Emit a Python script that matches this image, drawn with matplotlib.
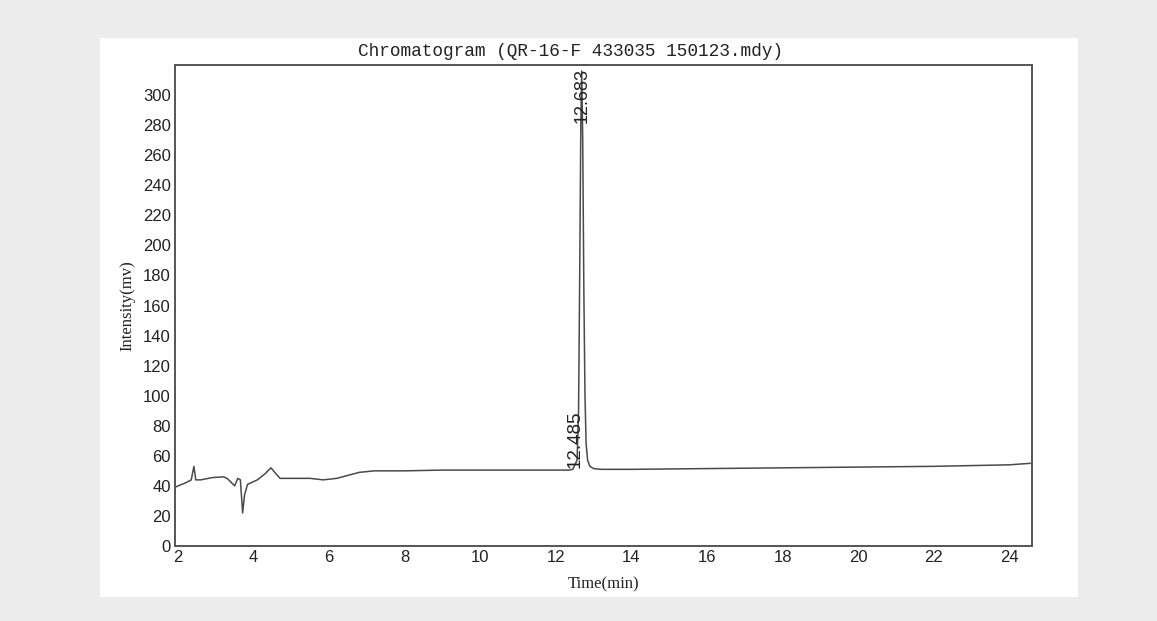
import matplotlib.pyplot as plt
from matplotlib.patches import Rectangle

# chromatogram trace
time_min = [1.92, 2.0, 2.2, 2.35, 2.42, 2.47, 2.6, 2.9, 3.2, 3.3, 3.42, 3.5, 3.58, 3.65, 3.71,
            3.76, 3.84, 4.1, 4.3, 4.46, 4.56, 4.7, 5.0, 5.5, 5.84, 6.2, 6.5, 6.8, 7.2,
            8.0, 9.0, 10.0, 11.0, 12.0, 12.35, 12.45, 12.5, 12.56, 12.6, 12.63, 12.66,
            12.683, 12.71, 12.74, 12.77, 12.8, 12.84, 12.9, 13.0, 13.2, 14.0, 16.0,
            18.0, 20.0, 22.0, 24.0, 24.55]
intensity = [39, 40, 42, 44, 53, 44, 44, 45.5, 46, 45, 42, 40, 45, 44, 22,
             34, 41, 44, 48, 52, 49, 45, 45, 45, 44, 45, 47, 49, 50,
             50, 50.5, 50.5, 50.5, 50.5, 50.5, 51, 54, 57, 90, 180, 280,
             316, 270, 170, 100, 68, 57, 53, 51.5, 51, 51, 51.5,
             52, 52.5, 53, 54, 55]

peak_times = [12.485, 12.683]
peak_labels = ['12.485', '12.683']

fig = plt.figure(figsize=(11.57, 6.21), dpi=100)
fig.patch.set_facecolor('#ececec')
fig.patches.append(Rectangle((100/1157, 1-597/621), 978/1157, 559/621,
                             transform=fig.transFigure, facecolor='white',
                             edgecolor='none', zorder=-5))

ax = fig.add_axes([175/1157, 1-546/621, 857/1157, 481/621])
ax.set_facecolor('none')
ax.plot(time_min, intensity, color='#4a4a4a', lw=1.1)

ax.text(peak_times[0] + 0.03, 52, peak_labels[0], rotation=90, ha='center', va='bottom',
        fontsize=13.5, family='Liberation Sans', color='#222222')
ax.text(peak_times[1], 318, peak_labels[1], rotation=90, ha='center', va='top',
        fontsize=13, family='Liberation Sans', color='#222222')

ax.set_xlim(1.92, 24.6)
ax.set_ylim(0, 320)
ax.set_xticks(range(2, 25, 2))
ax.set_yticks(range(0, 301, 20))
ax.tick_params(length=0, labelsize=12, pad=3, colors='#222222')
for lab in ax.get_xticklabels() + ax.get_yticklabels():
    lab.set_family('Liberation Sans')
for s in ax.spines.values():
    s.set_color('#555555')
    s.set_linewidth(1.4)

fig.text(570/1157, 1-52/621, 'Chromatogram (QR-16-F 433035 150123.mdy)', family='Liberation Mono',
         fontsize=12.8, ha='center', va='center', color='#222222')
ax.set_xlabel('Time(min)', family='Liberation Serif', fontsize=12, labelpad=8, color='#222222')
ax.set_ylabel('Intensity(mv)', family='Liberation Serif', fontsize=12, labelpad=5, color='#222222')

plt.savefig('out.png', dpi=100, facecolor=fig.get_facecolor())
